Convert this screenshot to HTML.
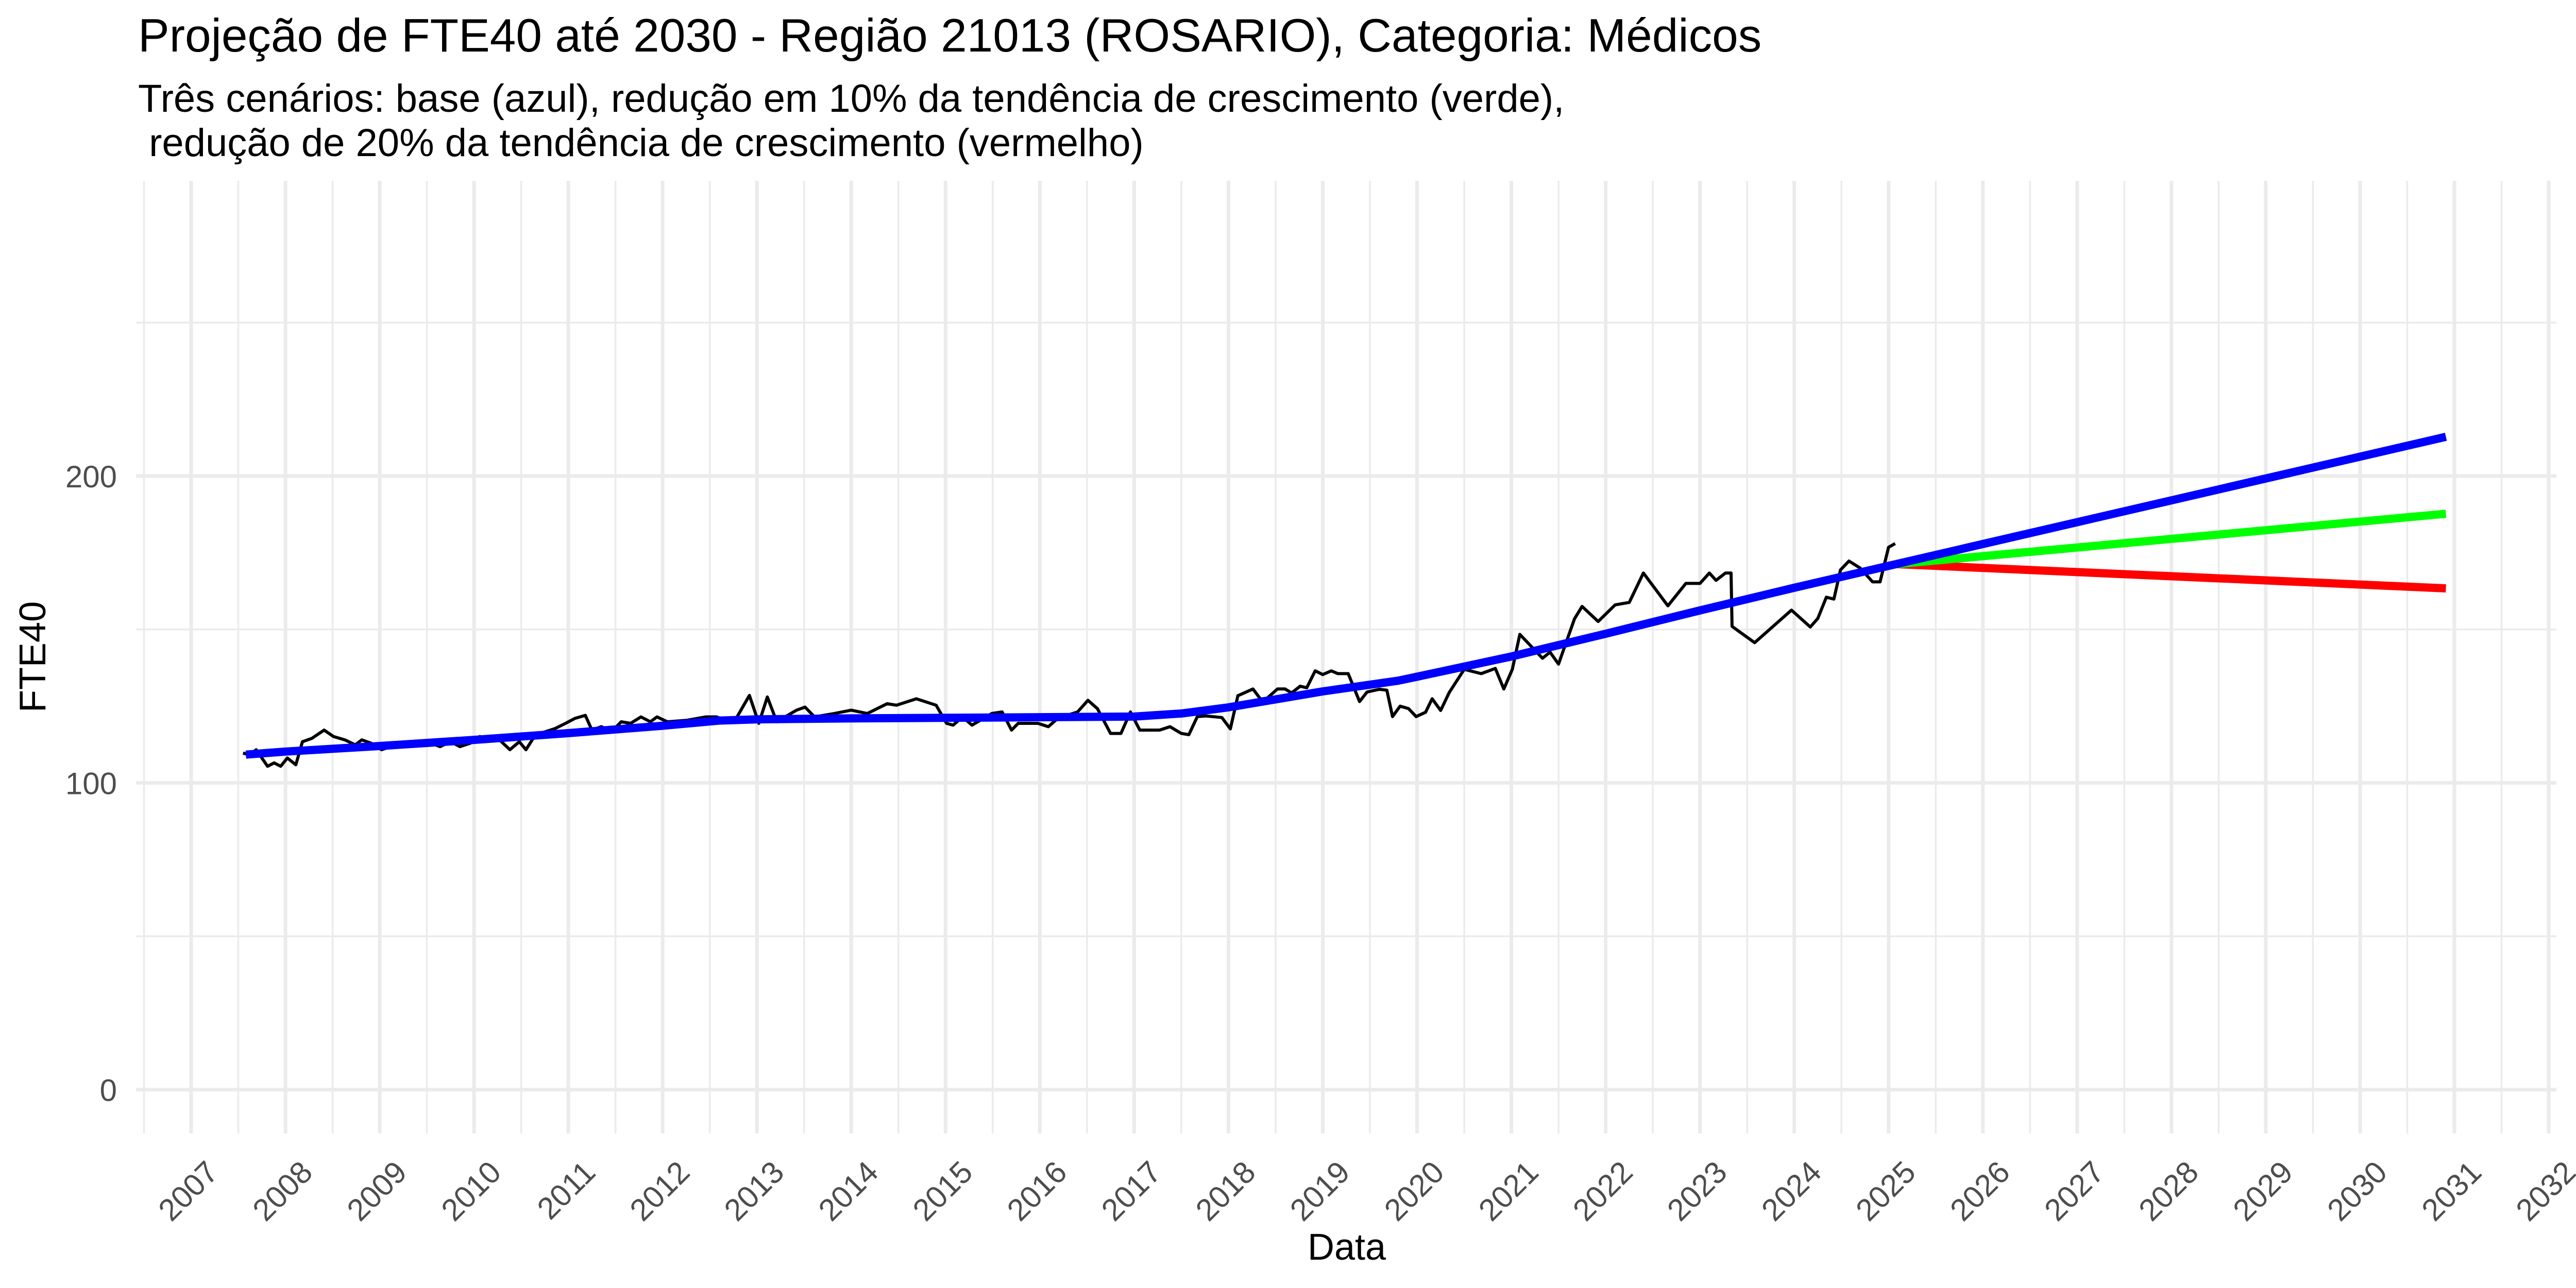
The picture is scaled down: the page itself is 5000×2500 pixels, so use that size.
<!DOCTYPE html>
<html><head><meta charset="utf-8"><style>
html,body{margin:0;padding:0;background:#fff;}
svg{display:block;font-family:"Liberation Sans",Arial,sans-serif;}
</style></head><body>
<svg id="chart" width="5000" height="2500" viewBox="0 0 5000 2500" xmlns="http://www.w3.org/2000/svg">
<rect width="5000" height="2500" fill="#fff"/>
<g id="grid"></g>
<g id="series"></g>
<g id="axes"></g>
<text x="268" y="100" font-size="91" fill="#000">Projeção de FTE40 até 2030 - Região 21013 (ROSARIO), Categoria: Médicos</text>
<text x="268" y="217" font-size="76" fill="#000">Três cenários: base (azul), redução em 10% da tendência de crescimento (verde),</text>
<text x="268" y="303" font-size="76" fill="#000" xml:space="preserve"> redução de 20% da tendência de crescimento (vermelho)</text>
<text x="2614" y="2445" font-size="72" fill="#000" text-anchor="middle">Data</text>
<text transform="translate(88,1275) rotate(-90)" font-size="72" fill="#000" text-anchor="middle">FTE40</text>
</svg>
<script>
// Observed data (year, FTE40)
const obsYears=[2007.55,2007.62,2007.69,2007.81,2007.88,2007.95,2008.02,2008.11,2008.18,2008.28,2008.41,2008.51,2008.63,2008.74,2008.81,2008.91,2009.02,2009.12,2009.33,2009.54,2009.64,2009.75,2009.85,2009.96,2010.06,2010.27,2010.38,2010.48,2010.55,2010.65,2010.86,2010.97,2011.07,2011.18,2011.25,2011.35,2011.46,2011.56,2011.66,2011.77,2011.87,2011.94,2012.05,2012.26,2012.46,2012.57,2012.67,2012.78,2012.92,2013.02,2013.11,2013.21,2013.42,2013.51,2013.61,2013.82,2014.0,2014.17,2014.38,2014.48,2014.69,2014.9,2015.01,2015.08,2015.18,2015.28,2015.49,2015.6,2015.7,2015.77,2015.98,2016.09,2016.19,2016.4,2016.51,2016.61,2016.75,2016.86,2016.96,2017.06,2017.27,2017.38,2017.5,2017.58,2017.67,2017.76,2017.93,2018.02,2018.1,2018.26,2018.34,2018.41,2018.52,2018.6,2018.67,2018.76,2018.83,2018.92,2019.0,2019.09,2019.16,2019.27,2019.39,2019.47,2019.6,2019.68,2019.74,2019.82,2019.91,2019.99,2020.09,2020.16,2020.25,2020.34,2020.5,2020.68,2020.83,2020.92,2021.01,2021.09,2021.33,2021.41,2021.5,2021.59,2021.67,2021.75,2021.92,2022.1,2022.25,2022.4,2022.66,2022.85,2023.0,2023.1,2023.17,2023.27,2023.33,2023.34,2023.58,2023.97,2024.17,2024.25,2024.34,2024.42,2024.49,2024.58,2024.7,2024.83,2024.91,2025.0,2025.07];
const obsValues=[109.7,109.1,110.8,105.4,106.5,105.4,108.1,105.9,113.4,114.5,117.2,115.1,114,112.4,114,112.9,110.8,111.8,112.9,112.9,111.8,113.4,111.8,112.9,115.1,114,110.8,113.4,110.8,115.6,117.7,119.4,121,122,117.2,118.3,116.7,119.9,119.4,121.5,119.9,121.5,119.9,120.4,121.5,121.5,120.4,121,128.5,119.4,128,119.9,123.7,124.7,121.5,122.6,123.7,122.6,125.8,125.3,127.4,125.3,119.4,118.8,121.5,118.8,122.6,123.1,117.2,119.4,119.4,118.3,121,123.1,126.9,124.2,116.1,116.1,123.1,117.2,117.2,118.3,116.1,115.7,121.6,121.8,121.3,117.6,128.4,130.6,127.3,127.6,130.6,130.6,129.3,131.5,131,136.5,135.3,136.5,135.6,135.6,126.5,129.6,130.5,130.2,121.6,125,124.2,121.6,123,127.4,123.6,129.4,137,135.6,137.3,130.6,137,148.4,140.6,142.6,138.7,146.6,153.5,157.5,152.6,158,158.8,168.4,157.7,165,165,168.4,166,168.4,168.4,151,145.7,156.3,150.8,153.6,160.5,159.9,169.4,172.3,170,165.5,165.5,176.8,178];
// Fitted trend (base)
const trendYears=[2007.58,2008,2009,2010,2011,2012,2012.6,2013,2014,2015,2016,2017,2017.5,2018,2018.5,2019,2019.8,2020,2021,2022,2023,2024,2025.08];
const trendValues=[109.2,110.2,112,114,116.2,118.6,120.3,120.7,121,121.2,121.4,121.6,122.6,124.6,127.2,129.8,133.3,134.6,141.2,148.6,156.2,163.6,171.3];
// Projection scenarios
const projYears=[2025.08,2030.91];
const projBase=[171.3,212.8];
const projMinus10=[171.3,187.7];
const projMinus20=[171.3,163.4];
const yTicks=[0,100,200];
const yMinor=[50,150,250];
const xTickYears=[2007,2008,2009,2010,2011,2012,2013,2014,2015,2016,2017,2018,2019,2020,2021,2022,2023,2024,2025,2026,2027,2028,2029,2030,2031,2032];

const NS="http://www.w3.org/2000/svg";
const PL=264,PR=4962,PT=351,PB=2200;
function X(yr){return 371+(yr-2007)*183.04;}
function Y(v){return 2115-v*5.955;}
function mk(tag,attrs,parent){const e=document.createElementNS(NS,tag);for(const k in attrs)e.setAttribute(k,attrs[k]);parent.appendChild(e);return e;}
const grid=document.getElementById('grid'),series=document.getElementById('series'),axes=document.getElementById('axes');

yMinor.forEach(v=>{const l=mk('line',{x1:PL,x2:PR,y1:Y(v),y2:Y(v),stroke:'#ebebeb','stroke-width':3.5},grid);

});
for(let i=0;i<xTickYears.length;i++){const yr=xTickYears[i]-0.5;const l=mk('line',{x1:X(yr),x2:X(yr),y1:PT,y2:PB,stroke:'#ebebeb','stroke-width':3.5},grid);

}
yTicks.forEach(v=>{const l=mk('line',{x1:PL,x2:PR,y1:Y(v),y2:Y(v),stroke:'#ebebeb','stroke-width':7},grid);


const t=mk('text',{x:227,y:Y(v)+22,'font-size':60,fill:'#4d4d4d','text-anchor':'end'},axes);t.textContent=String(v);

});
xTickYears.forEach(yr=>{const l=mk('line',{x1:X(yr),x2:X(yr),y1:PT,y2:PB,stroke:'#ebebeb','stroke-width':7},grid);


const ax=X(yr)+56,ay=2279;
const t=mk('text',{x:ax,y:ay,'font-size':60,fill:'#4d4d4d','text-anchor':'end',transform:`rotate(-45 ${ax} ${ay})`},axes);t.textContent=String(yr);

});

function path(xs,ys,color,w,name){const d=xs.map((x,i)=>(i?'L':'M')+X(x).toFixed(1)+' '+Y(ys[i]).toFixed(1)).join(' ');
const p=mk('path',{d:d,fill:'none',stroke:color,'stroke-width':w,'stroke-linejoin':'round','stroke-linecap':'butt'},series);

}
path(obsYears,obsValues,'#000',6,'observed-fte40-line');
path(projYears,projMinus20,'#ff0000',16,'projection-minus20-red');
path(projYears,projMinus10,'#00ff00',16,'projection-minus10-green');
path(projYears,projBase,'#0000ff',16,'projection-base-blue');
path(trendYears,trendValues,'#0000ff',16,'trend-base-blue');
</script>
</body></html>
